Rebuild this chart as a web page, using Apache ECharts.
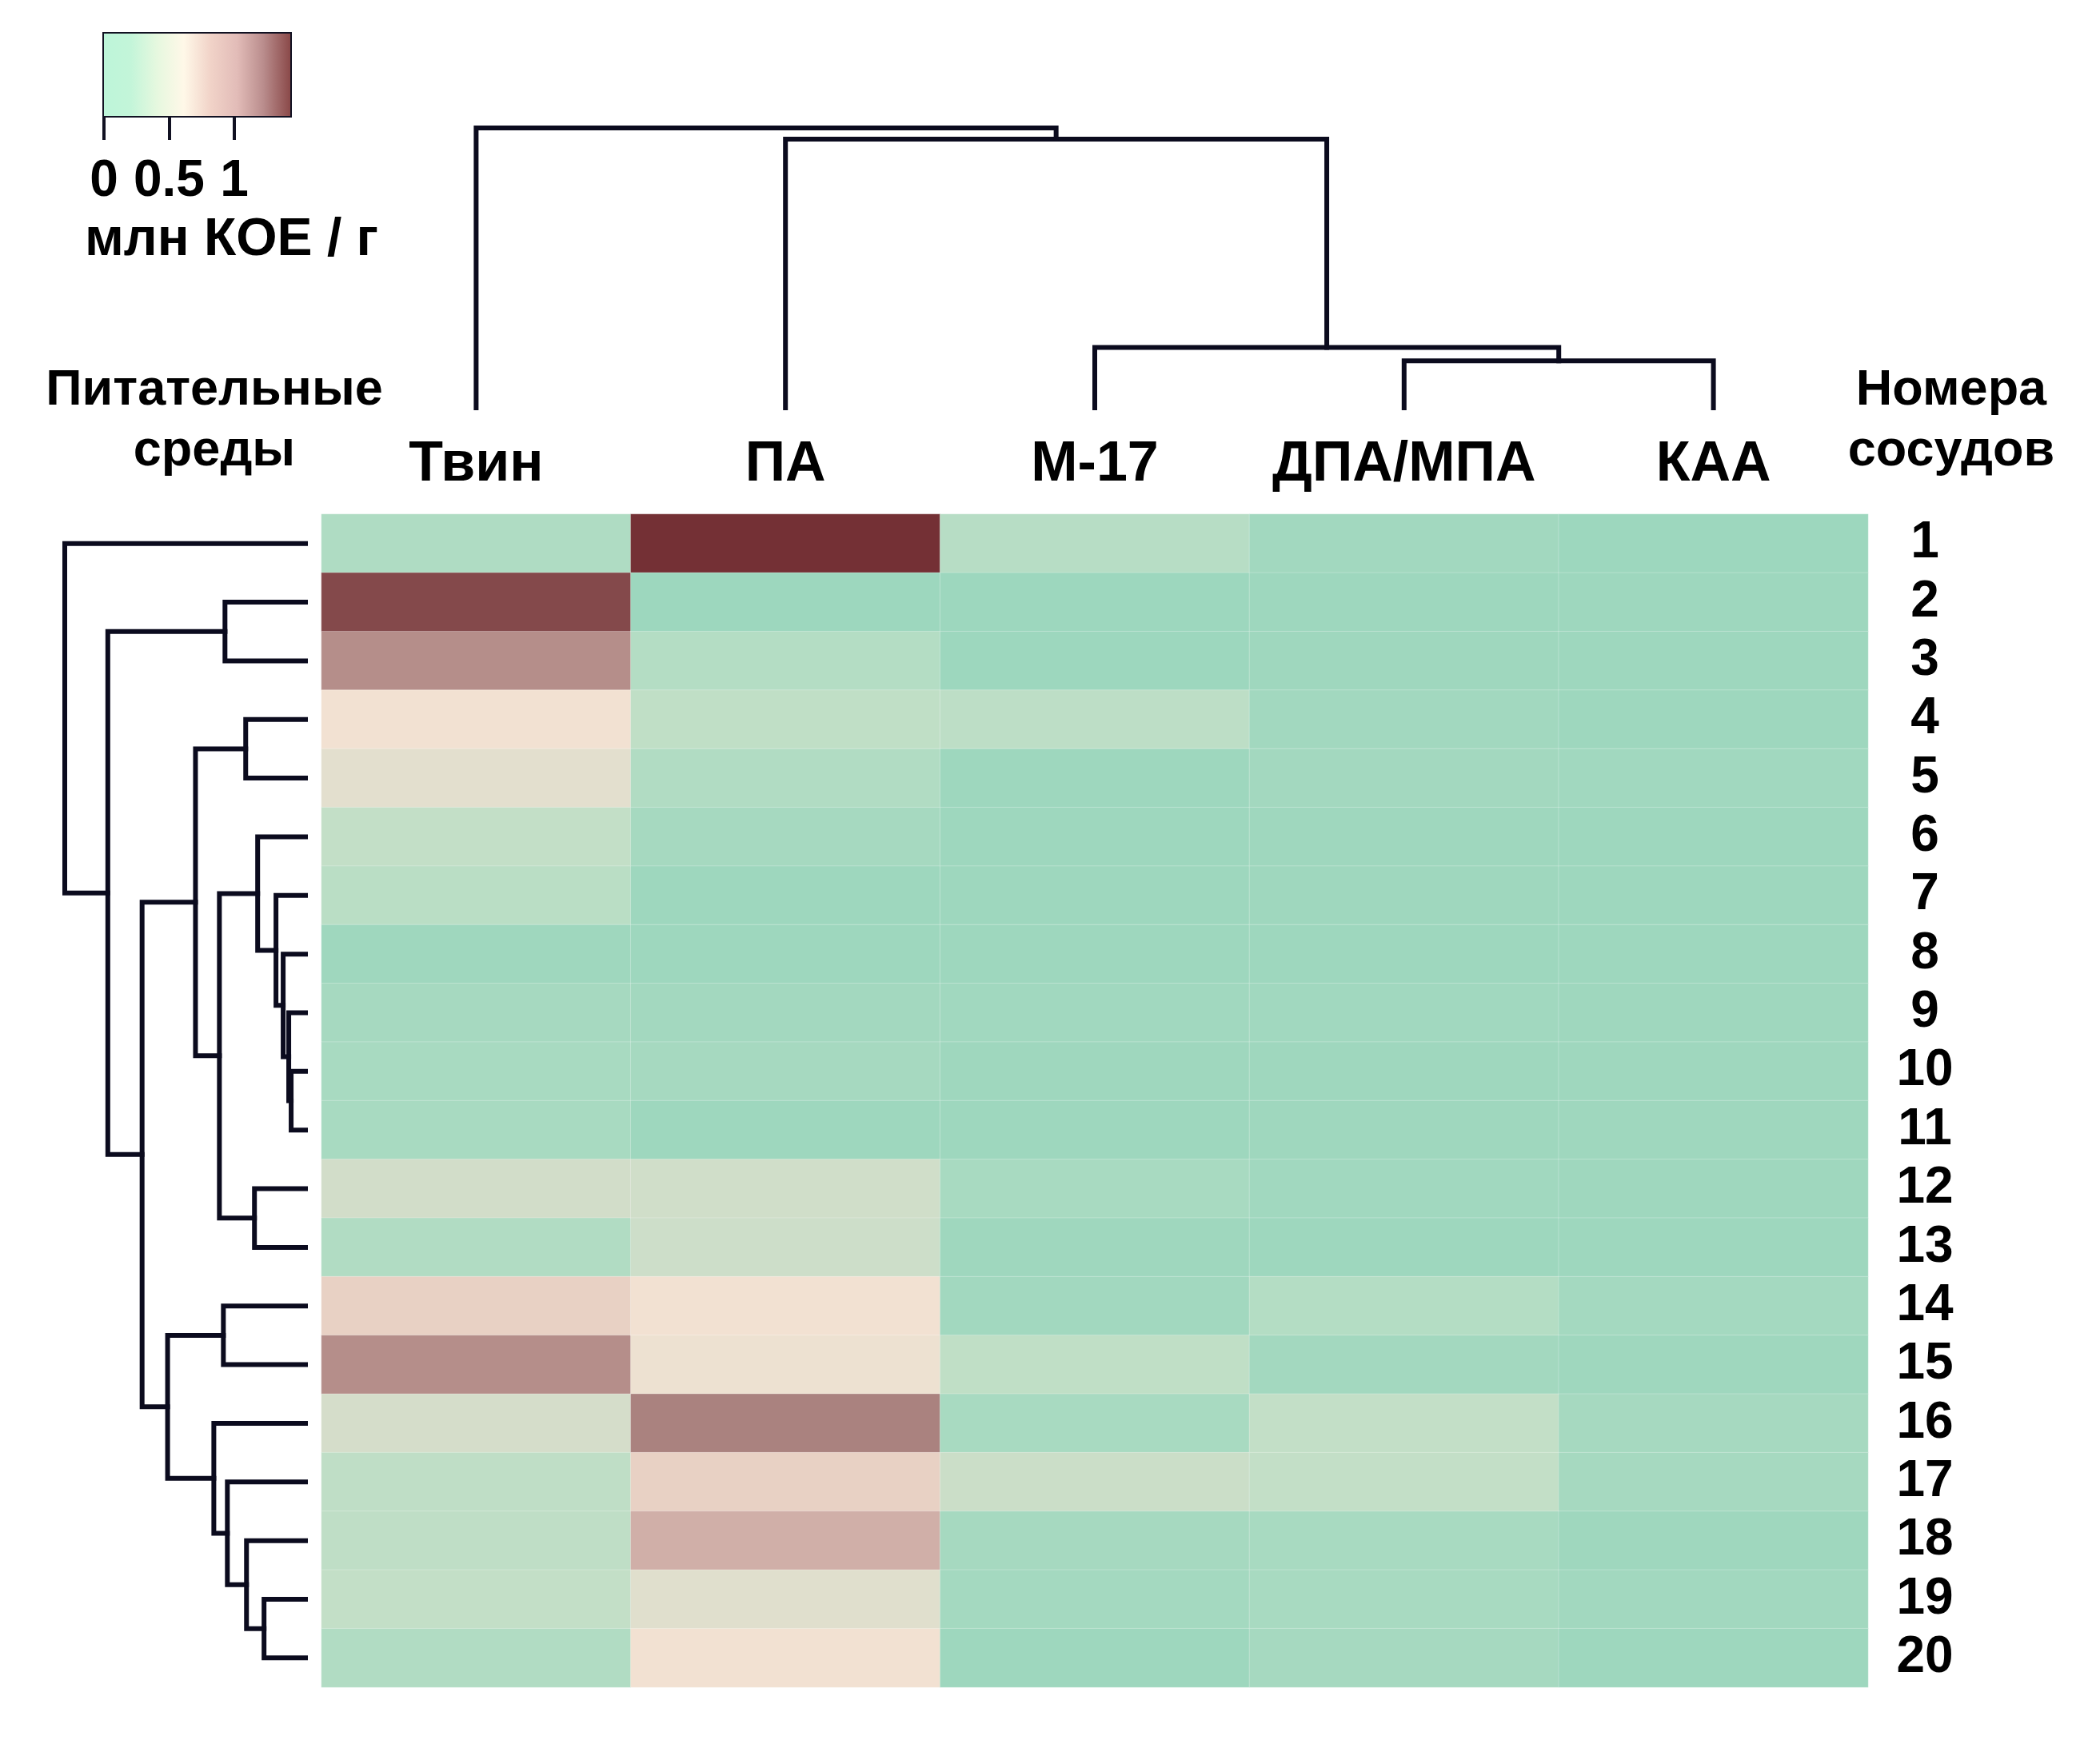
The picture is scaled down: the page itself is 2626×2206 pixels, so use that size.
<!DOCTYPE html>
<html><head><meta charset="utf-8">
<script src="https://cdn.jsdelivr.net/npm/echarts@6/dist/echarts.min.js"></script>
<style>html,body{margin:0;padding:0;background:#fff}#c{width:2626px;height:2206px}</style>
</head><body><div id="c"></div>
<script>
const columns = ['Твин','ПА','М-17','ДПА/МПА','КАА'];
const rows = ['1','2','3','4','5','6','7','8','9','10','11','12','13','14','15','16','17','18','19','20'];
const colTvin = [0.18,1.37,1.17,0.72,0.62,0.36,0.28,0.04,0.10,0.12,0.12,0.50,0.20,0.86,1.17,0.53,0.32,0.32,0.36,0.20];
const colPA   = [1.45,0.02,0.22,0.33,0.20,0.10,0.03,0.03,0.07,0.10,0.03,0.48,0.45,0.72,0.68,1.22,0.86,1.03,0.60,0.72];
const colM17  = [0.25,0.02,0.02,0.30,0.03,0.03,0.03,0.03,0.05,0.04,0.03,0.12,0.04,0.06,0.33,0.12,0.43,0.10,0.08,0.03];
const colDPA  = [0.06,0.03,0.04,0.06,0.07,0.04,0.04,0.03,0.05,0.04,0.04,0.05,0.03,0.22,0.07,0.36,0.36,0.12,0.12,0.10];
const colKAA  = [0.02,0.03,0.03,0.03,0.05,0.03,0.03,0.03,0.04,0.04,0.04,0.04,0.03,0.08,0.04,0.10,0.10,0.04,0.06,0.03];
const legendTicks = [0, 0.5, 1];
const legendMax = 1.43;
// row dendrogram merges: [childA, childB, height]; leaves 0..19, nodes 20+
const rowMerges = [
 [9,10,18],[8,20,21],[7,21,28],[6,22,37],[5,23,60],[11,12,64],[24,25,108],[3,4,75],[27,26,138],
 [1,2,101],[13,14,103],[18,19,52],[17,31,74],[16,32,98],[15,33,115],[30,34,173],[28,35,205],[29,36,248],[0,37,302]
];
// column dendrogram merges
const colMerges = [[3,4,59],[2,5,76],[1,6,338],[0,7,352]];

const allCols=[colTvin,colPA,colM17,colDPA,colKAA];
const heat=[];
allCols.forEach((c,ci)=>c.forEach((v,ri)=>heat.push([ci,ri,v])));

function dendro(merges,n,horizontal){
  const pos=[],ht=[];
  for(let i=0;i<n;i++){pos[i]=i;ht[i]=0;}
  const segs=[];
  merges.forEach((m,k)=>{
    const [a,b,h]=m;const id=n+k;
    pos[id]=(pos[a]+pos[b])/2;ht[id]=h;
    const pts=[[ht[a],pos[a]],[h,pos[a]],[h,pos[b]],[ht[b],pos[b]]];
    segs.push({coords: horizontal? pts : pts.map(p=>[p[1],p[0]])});
  });
  return segs;
}
const lineStyle={color:'#0b0b1e',width:6,opacity:1,cap:'square'};
const heatColors=['#9bd6bd','#afdcc3','#c3dfc7','#d6ddca','#f2e2d3','#e6cdc1','#c9a6a0','#a47a78','#743035'];
const legColors=['#bdf5d9','#c3f5d9','#e6f8df','#fff8e8','#f1d3c8','#e2bcb8','#b98c8c','#8b4a4a'];

const chart=echarts.init(document.getElementById('c'));
const F='Liberation Sans, Arial, sans-serif';
chart.setOption({
  backgroundColor:'#fff',
  animation:false,
  grid:[
    {left:402,top:643,width:1934,height:1467},
    {left:81,top:643,width:301,height:1467},
    {left:402,top:160,width:1934,height:350},
    {left:130,top:42,width:233,height:103,show:true,borderColor:'#111122',borderWidth:4,backgroundColor:'transparent'}
  ],
  xAxis:[
    {gridIndex:0,type:'category',data:columns,position:'top',axisLine:{show:false},axisTick:{show:false},
     axisLabel:{interval:0,fontSize:70,fontWeight:'bold',color:'#000',fontFamily:F,margin:26}},
    {gridIndex:1,type:'value',min:0,max:302,inverse:true,show:false},
    {gridIndex:2,type:'value',min:-0.5,max:4.5,show:false},
    {gridIndex:3,type:'value',min:0,max:legendMax,interval:0.5,axisLine:{show:false},
     axisTick:{show:true,length:30,lineStyle:{color:'#111122',width:4}},splitLine:{show:false},
     axisLabel:{fontSize:64,fontWeight:'bold',color:'#000',fontFamily:F,margin:50,showMaxLabel:false,
       formatter:v=>legendTicks.includes(v)?String(v):''}}
  ],
  yAxis:[
    {gridIndex:0,type:'category',data:rows,inverse:true,position:'right',axisLine:{show:false},axisTick:{show:false},
     axisLabel:{interval:0,fontSize:64,fontWeight:'bold',color:'#000',fontFamily:F,margin:71,align:'center'}},
    {gridIndex:1,type:'value',min:-0.5,max:19.5,inverse:true,show:false},
    {gridIndex:2,type:'value',min:0,max:352,show:false},
    {gridIndex:3,type:'value',min:0,max:1,show:false}
  ],
  visualMap:[
    {show:false,seriesIndex:0,min:0,max:legendMax,inRange:{color:heatColors}}
  ],
  series:[
    {type:'heatmap',xAxisIndex:0,yAxisIndex:0,data:heat,itemStyle:{borderColor:'rgba(255,255,255,0.25)',borderWidth:1}},
    {type:'lines',coordinateSystem:'cartesian2d',xAxisIndex:1,yAxisIndex:1,polyline:true,data:dendro(rowMerges,20,true),lineStyle:lineStyle},
    {type:'lines',coordinateSystem:'cartesian2d',xAxisIndex:2,yAxisIndex:2,polyline:true,data:dendro(colMerges,5,false),lineStyle:lineStyle},
    {type:'custom',xAxisIndex:3,yAxisIndex:3,data:[[0]],renderItem:(p,api)=>{
       const a=api.coord([0,1]),b=api.coord([legendMax,0]);
       return {type:'rect',shape:{x:a[0],y:a[1],width:b[0]-a[0],height:b[1]-a[1]},
         style:{fill:new echarts.graphic.LinearGradient(0,0,1,0,legColors.map((c,i)=>({offset:i/(legColors.length-1),color:c})))}};
    }}
  ],
  graphic:[
    {type:'text',left:106,top:268,style:{text:'млн КОЕ / г',font:'bold 66px '+F,fill:'#000'}},
    {type:'text',x:268,y:489,style:{text:'Питательные',font:'bold 63px '+F,fill:'#000',align:'center',verticalAlign:'middle'}},
    {type:'text',x:268,y:565,style:{text:'среды',font:'bold 63px '+F,fill:'#000',align:'center',verticalAlign:'middle'}},
    {type:'text',x:2440,y:489,style:{text:'Номера',font:'bold 63px '+F,fill:'#000',align:'center',verticalAlign:'middle'}},
    {type:'text',x:2440,y:565,style:{text:'сосудов',font:'bold 63px '+F,fill:'#000',align:'center',verticalAlign:'middle'}}
  ]
});
</script></body></html>
